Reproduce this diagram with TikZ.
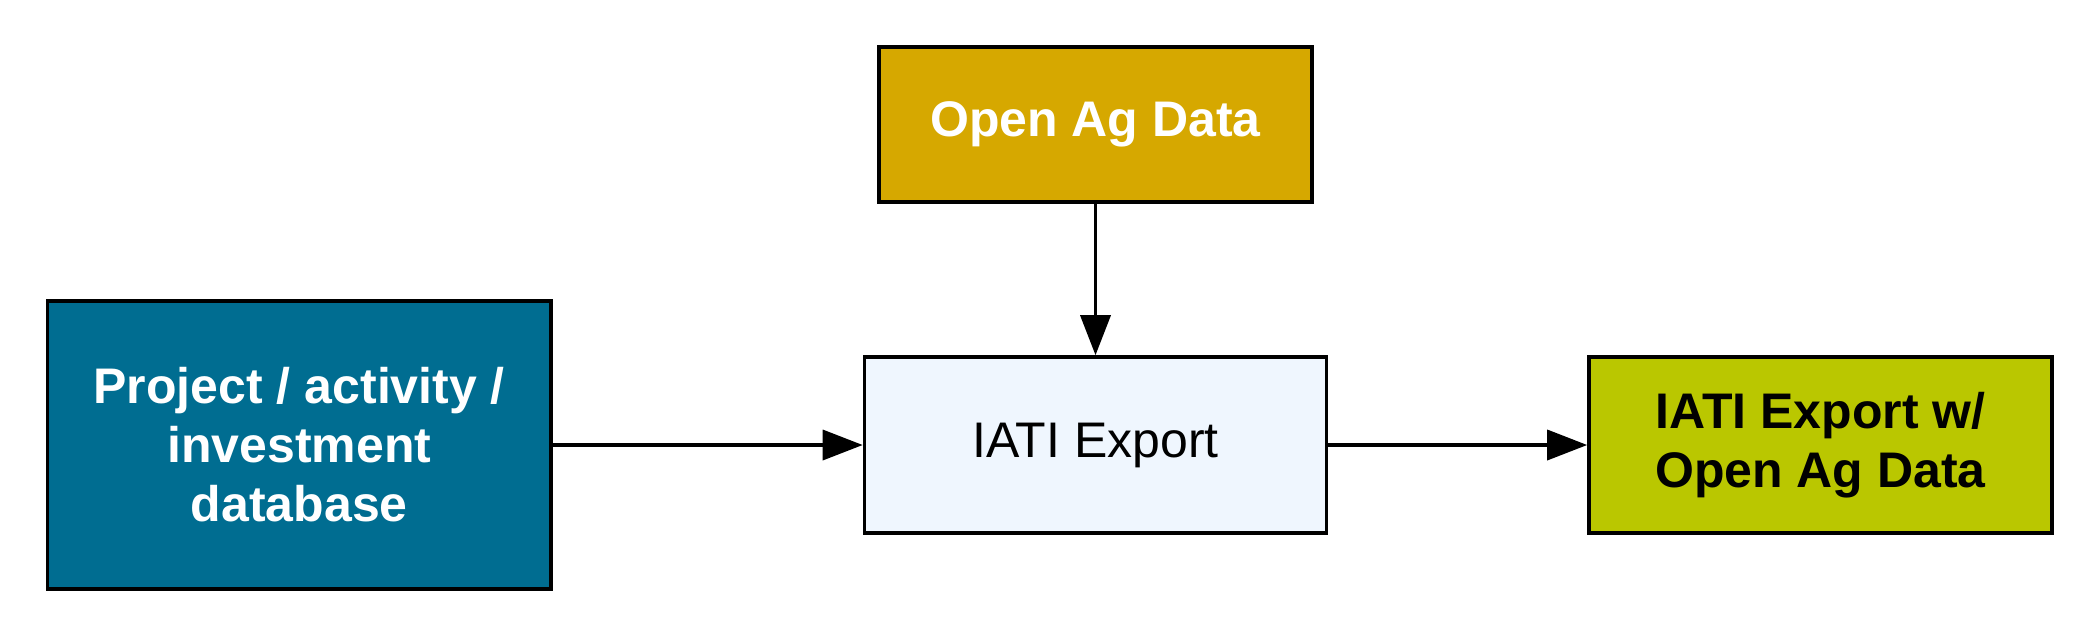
\documentclass[tikz,border=0pt]{standalone}
\usepackage{fontspec}
\setmainfont{Liberation Sans}
\usetikzlibrary{arrows.meta}
\definecolor{projblue}{RGB}{0,109,145}
\definecolor{agold}{RGB}{214,168,0}
\definecolor{iatibg}{RGB}{239,246,254}
\definecolor{resgreen}{RGB}{186,199,0}
\tikzset{
  box/.style={draw=black, line width=3.6pt, rectangle, inner sep=0pt, align=center,
    font=\fontsize{50}{59}\selectfont},
  conn/.style={line width=3.6pt, -{Triangle[length=40pt,width=30pt]}}
}
\begin{document}
\begin{tikzpicture}[x=1pt,y=-1pt]
\fill[white] (0,0) rectangle (2095,633);
\useasboundingbox (0,0) rectangle (2095,633);
\node[box, fill=projblue, text=white, minimum width=503.5pt, minimum height=288pt] (proj) at (299.25,445) {\bfseries Project / activity /\\\bfseries investment\\\bfseries database};
\node[box, fill=iatibg, text=black, minimum width=462pt, minimum height=176pt] (iati) at (1095.5,445) {IATI Export};
\node[box, fill=resgreen, text=black, minimum width=463pt, minimum height=176pt] (res) at (1820.5,445) {\bfseries IATI Export w/\\\bfseries Open Ag Data};
\node[box, fill=agold, text=white, minimum width=433pt, minimum height=155pt] (ag) at (1095.5,124.5) {\bfseries Open Ag Data};
\draw[conn] (proj.east) -- (iati.west);
\draw[conn] (iati.east) -- (res.west);
\draw[conn] (ag.south) -- (iati.north);
\end{tikzpicture}
\end{document}
